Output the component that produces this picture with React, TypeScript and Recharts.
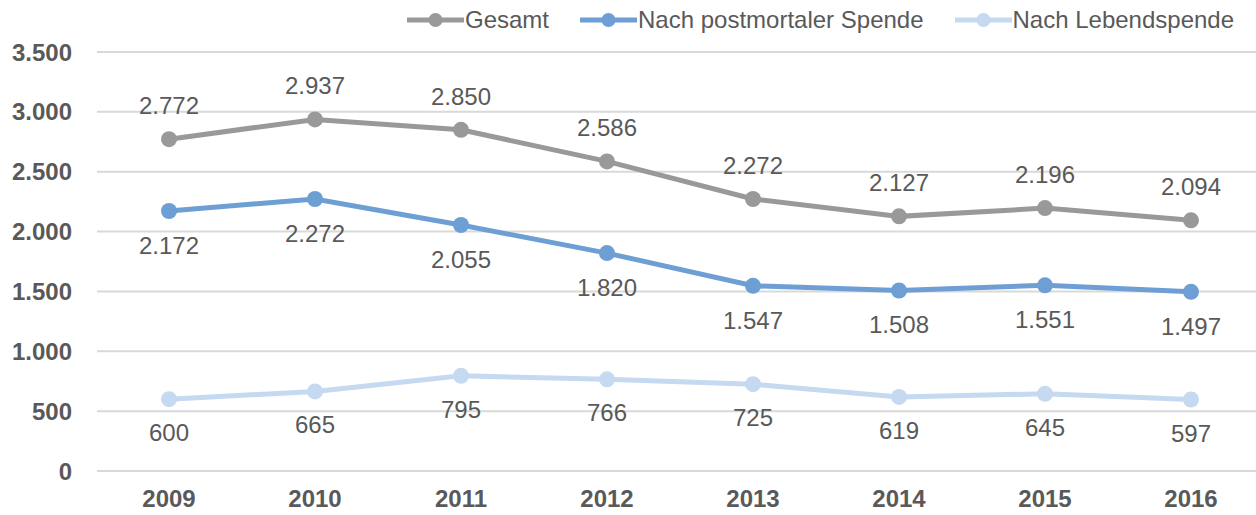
import { LineChart, Line, XAxis, YAxis, CartesianGrid, LabelList } from 'recharts'

const years = ['2009', '2010', '2011', '2012', '2013', '2014', '2015', '2016']
const gesamt = [2772, 2937, 2850, 2586, 2272, 2127, 2196, 2094]
const postmortal = [2172, 2272, 2055, 1820, 1547, 1508, 1551, 1497]
const lebend = [600, 665, 795, 766, 725, 619, 645, 597]
const yTicks = [0, 500, 1000, 1500, 2000, 2500, 3000, 3500]

const series = [
  { key: 'gesamt', name: 'Gesamt', color: '#999999', dy: -25 },
  { key: 'postmortal', name: 'Nach postmortaler Spende', color: '#6e9fd4', dy: 43 },
  { key: 'lebend', name: 'Nach Lebendspende', color: '#c5d9f0', dy: 42 },
]

const data = years.map((year, i) => ({
  year,
  gesamt: gesamt[i],
  postmortal: postmortal[i],
  lebend: lebend[i],
}))

const FONT = 'Arial, "Liberation Sans", sans-serif'
const TEXT = '#595959'

// 1.234 style thousands separator
const fmt = (v: number) => String(v).replace(/\B(?=(\d{3})+(?!\d))/g, '.')

function makeLabel(dy: number) {
  return (props: any) => {
    const { x, y, value } = props
    return (
      <text x={x} y={y + dy} textAnchor="middle" fontSize={24} fill={TEXT} fontFamily={FONT}>
        {fmt(value)}
      </text>
    )
  }
}

function LegendBox() {
  return (
    <div style={{ position: 'absolute', top: 6, left: 407, display: 'flex', fontFamily: FONT, fontSize: 24, color: TEXT, whiteSpace: 'nowrap' }}>
      {series.map((s) => (
        <div key={s.key} style={{ display: 'flex', alignItems: 'center', marginRight: 31, height: 28 }}>
          <svg width={57} height={28}>
            <line x1={0} y1={14} x2={57} y2={14} stroke={s.color} strokeWidth={5} />
            <circle cx={28.5} cy={14} r={7} fill={s.color} />
          </svg>
          <span style={{ marginLeft: 1 }}>{s.name}</span>
        </div>
      ))}
    </div>
  )
}

export default function App() {
  return (
    <div style={{ position: 'absolute', left: 0, top: 0, width: 1256, height: 515, overflow: 'hidden', background: '#fff' }}>
      <LineChart width={1263} height={515} data={data} margin={{ top: 52, right: 0, left: 0, bottom: 0 }}>
        <CartesianGrid vertical={false} stroke="#d9d9d9" strokeWidth={2} />
        <XAxis
          dataKey="year"
          axisLine={false}
          tickLine={false}
          tickSize={0}
          tickMargin={19}
          height={44}
          padding={{ left: 72, right: 72 }}
          tick={{ fontSize: 24, fontWeight: 'bold', fill: TEXT, fontFamily: FONT }}
        />
        <YAxis
          domain={[0, 3500]}
          ticks={yTicks}
          width={97}
          axisLine={false}
          tickLine={false}
          tickSize={0}
          tickMargin={25}
          tickFormatter={fmt}
          tick={{ fontSize: 24, fontWeight: 'bold', fill: TEXT, fontFamily: FONT }}
        />
        {series.map((s) => (
          <Line
            key={s.key}
            dataKey={s.key}
            name={s.name}
            stroke={s.color}
            strokeWidth={5}
            dot={{ r: 8, fill: s.color, stroke: s.color, strokeWidth: 0 }}
            isAnimationActive={false}
          >
            <LabelList dataKey={s.key} content={makeLabel(s.dy)} />
          </Line>
        ))}
      </LineChart>
      <LegendBox />
    </div>
  )
}
